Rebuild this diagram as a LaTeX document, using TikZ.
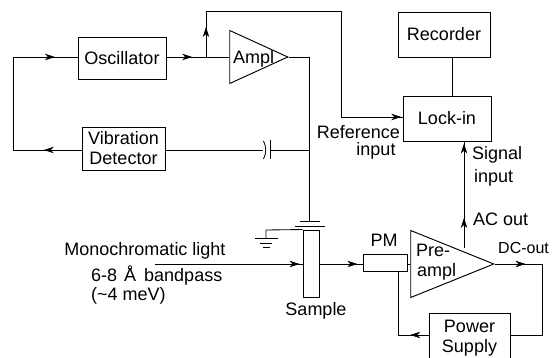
\documentclass[tikz,border=0pt]{standalone}
\usepackage{fontspec}
\setmainfont{Liberation Sans}
\usetikzlibrary{arrows.meta}
\usetikzlibrary{positioning}
\usetikzlibrary{shapes.geometric}
\usetikzlibrary{decorations.markings}
\tikzset{
  wire/.style={line width=0.85pt},
  block/.style={draw,line width=0.95pt,rectangle,inner sep=0pt,align=center},
  amplifier/.style={draw,line width=0.95pt,isosceles triangle,isosceles triangle stretches,
    inner sep=0pt,anchor=apex},
  label/.style={inner sep=0pt,align=center},
  flow/.style={postaction={decorate},decoration={markings,
    mark=at position #1 with {\arrow{Stealth[length=10pt,width=6.5pt,inset=3pt]}}}},
}
\begin{document}
\begin{tikzpicture}[x=1pt,y=-1pt,font=\fontsize{18}{20}\selectfont]
  \clip (0,0) rectangle (552,358);
  \useasboundingbox (0,0) rectangle (552,358);

  \node[block,minimum width=88pt,minimum height=42pt] (Oscillator) at (122,58) {Oscillator};
  \node[block,minimum width=83pt,minimum height=43pt] (Detector) at (123.5,148.5) {Vibration\\Detector};
  \node[block,minimum width=92pt,minimum height=45pt] (Recorder) at (444,34.5) {Recorder};
  \node[block,minimum width=88pt,minimum height=45pt] (Lockin) at (447,118.5) {Lock-in};
  \node[block,minimum width=81pt,minimum height=50pt] (Power) at (469.5,338) {Power\\Supply};
  \node[block,minimum width=44pt,minimum height=17pt] (PM) at (385,262.5) {};
  \node[block,minimum width=16pt,minimum height=67pt] (Sample) at (311,263.5) {};

  \node[amplifier,minimum width=53pt,minimum height=58pt] (Ampl) at (289,57) {};
  \node[amplifier,minimum width=67pt,minimum height=83pt] (Preampl) at (495,264) {};

  \node[label,right] (AmplText) at (233,59) {Ampl};
  \node[label,right] (PreText) at (416,250) {Pre-};
  \node[label,right] (AmplText2) at (417,272) {ampl};
  \node[label] (PMText) at (384,240) {PM};
  \node[label] (SampleText) at (316,311) {Sample};
  \node[label,left] (RefText) at (400,132) {Reference};
  \node[label] (RefInput) at (376,151) {input};
  \node[label,right] (SigText) at (472,155) {Signal};
  \node[label,right] (SigInput) at (474,178) {input};
  \node[label,right] (ACText) at (473,219) {AC out};
  \node[label,right,font=\fontsize{16}{20}\selectfont] (DCText) at (498,248) {DC-out};
  \node[label] (LightText) at (145,251) {Monochromatic light};
  \node[label,right] (BandText) at (91,276) {6-8\hspace{7pt}Å\hspace{3pt} bandpass};
  \node[label,right] (WidthText) at (91,296) {(\symbol{"7E}4 meV)};

  % feedback loop
  \coordinate (LoopTop) at (13,57);
  \coordinate (LoopBottom) at (13,150);
  \coordinate (Branch) at (206,57);
  \coordinate (BranchTop) at (206,11);
  \coordinate (RefTop) at (341,11);
  \coordinate (RefBottom) at (341,117);
  \draw[wire] (Detector.east |- LoopBottom) -- (263,150);
  \draw[wire] (Detector.west |- LoopBottom) -- (LoopBottom) -- (LoopTop) -- (Oscillator.west |- LoopTop);
  \draw[wire,flow=0.55] (Detector.west |- LoopBottom) -- (LoopBottom);
  \draw[wire,flow=0.65] (LoopTop) -- (Oscillator.west |- LoopTop);
  \draw[wire,flow=0.65] (Oscillator.east |- Branch) -- (Branch);
  \draw[wire] (Branch) -- (Ampl.west |- Branch);
  \draw[wire] (Branch) -- (BranchTop) -- (RefTop) -- (RefBottom);
  \draw[wire,flow=0.65] (Branch) -- (BranchTop);
  \draw[wire,flow=0.98] (RefBottom) -- (Lockin.west |- RefBottom);
  \draw[wire] (Recorder.south -| 452,0) -- (Lockin.north -| 452,0);

  % drive to the sample
  \coordinate (Plate) at (309,221);
  \draw[wire] (Ampl.apex) -- (309,57) -- (Plate);
  \draw[wire] (263.5,141) .. controls (266.5,147) and (266.5,153) .. (263.5,159);
  \draw[wire] (270,140) -- (270,159);
  \draw[wire] (270,150) -- (309,150);
  \draw[wire] (300,221) -- (320,221);
  \draw[wire] (295,226) -- (325,226);

  % ground
  \coordinate (Ground) at (266,238);
  \draw[wire] (Sample.north west) -- (266,230) -- (Ground);
  \draw[wire] (255,238) -- (278,238);
  \draw[wire] (260,243) -- (272,243);
  \draw[wire] (263,247) -- (270,247);

  % light path
  \coordinate (LightStart) at (155,264);
  \draw[wire,flow=0.98] (LightStart) -- (Sample.west |- LightStart);
  \draw[wire,flow=0.88] (Sample.east |- LightStart) -- (PM.west |- LightStart);
  \draw[wire] (PM.east |- LightStart) -- (Preampl.west |- LightStart);

  % outputs of the preamplifier
  \coordinate (ACFoot) at (464,248);
  \coordinate (DCCorner) at (542,264);
  \coordinate (DCBottom) at (542,335);
  \draw[wire,flow=0.98] (ACFoot) -- (Lockin.south -| ACFoot);
  \draw[wire,flow=0.97] (ACFoot) -- (464,217);
  \draw[wire,flow=0.65] (Preampl.apex) -- (DCCorner);
  \draw[wire] (DCCorner) -- (DCBottom) -- (Power.east |- DCBottom);
  \coordinate (PMFoot) at (398,335);
  \draw[wire] (PM.south -| PMFoot) -- (PMFoot);
  \draw[wire,flow=0.6] (Power.west |- PMFoot) -- (PMFoot);
\end{tikzpicture}
\end{document}
